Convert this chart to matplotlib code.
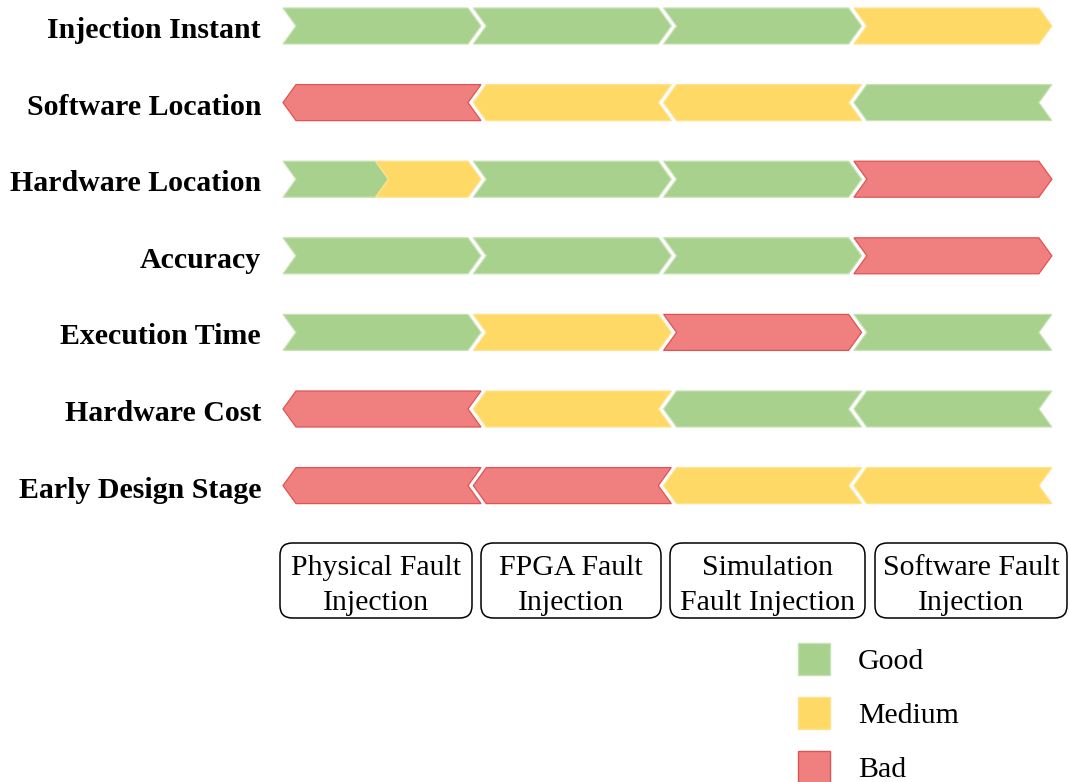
import matplotlib
matplotlib.use('Agg')
from matplotlib import pyplot as plt
from matplotlib.patches import Polygon, Rectangle, FancyBboxPatch

# criteria (rows, top to bottom) and techniques (columns)
criteria = ['Injection Instant', 'Software Location', 'Hardware Location', 'Accuracy',
            'Execution Time', 'Hardware Cost', 'Early Design Stage']
techniques = ['Physical Fault\nInjection', 'FPGA Fault\nInjection',
              'Simulation\nFault Injection', 'Software Fault\nInjection']

# rating of each technique per criterion (a pair = cell split in two)
injection_instant = ['good', 'good', 'good', 'medium']
software_location = ['bad', 'medium', 'medium', 'good']
hardware_location = [('good', 'medium'), 'good', 'good', 'bad']
accuracy = ['good', 'good', 'good', 'bad']
execution_time = ['good', 'medium', 'bad', 'good']
hardware_cost = ['bad', 'medium', 'good', 'good']
early_design_stage = ['bad', 'bad', 'medium', 'medium']
ratings = [injection_instant, software_location, hardware_location, accuracy,
           execution_time, hardware_cost, early_design_stage]

# arrow direction of each cell
directions = ['>>>>', '<<<<', '>>>>', '>>>>', '>>><', '<<<<', '<<<<']

legend_labels = ['Good', 'Medium', 'Bad']
fills = {'good': '#A9D18E', 'medium': '#FFD966', 'bad': '#F08080'}
edges = {'good': '#C6E2B3', 'medium': '#FFE38C', 'bad': '#E25252'}

# layout: x unit = one column (190.3 px), y unit = one row (76.6 px)
px_x, px_y = 190.3, 76.6
x0_px, y0_px = 283.0, 26.0
gap = 0.028
tip = 13 / px_x
half_h = 18 / px_y
serif = 'Liberation Serif'
fs = 21.5

fig = plt.figure(figsize=(10.7, 7.82), dpi=100)
ax = fig.add_axes([0, 0, 1, 1])
ax.set_xlim(-x0_px / px_x, (1070 - x0_px) / px_x)
ax.set_ylim((782 - y0_px) / px_y, -y0_px / px_y)
ax.axis('off')


def chevron(a, b, yc, left, right, rating):
    top, bot = yc - half_h, yc + half_h
    if left == 'notch':
        tl, lm, bl = (a, top), (a + tip, yc), (a, bot)
    else:
        tl, lm, bl = (a + tip, top), (a, yc), (a + tip, bot)
    if right == 'tip':
        tr, rm, br = (b, top), (b + tip, yc), (b, bot)
    else:
        tr, rm, br = (b + tip, top), (b, yc), (b + tip, bot)
    ax.add_patch(Polygon([tl, tr, rm, br, bl, lm], closed=True,
                         facecolor=fills[rating], edgecolor=edges[rating], lw=0.9))


for r, (row, dirs) in enumerate(zip(ratings, directions)):
    for i, cell in enumerate(row):
        d = dirs[i]
        prev = dirs[i - 1] if i > 0 else d
        left = 'notch' if prev == '>' else 'tip'
        right = 'tip' if d == '>' else 'notch'
        if isinstance(cell, tuple):
            mid = i + (1 - gap) / 2
            chevron(i, mid, r, left, right, cell[0])
            chevron(mid, i + 1 - gap, r, 'notch', right, cell[1])
        else:
            chevron(i, i + 1 - gap, r, left, right, cell)
    ax.text(-22 / px_x, r + 1.5 / px_y, criteria[r], ha='right', va='center_baseline',
            family=serif, fontweight='bold', fontsize=fs)

# technique boxes
box_edges_px = [(280, 472), (481, 661), (670, 865), (875, 1067)]
box_top = (543 - y0_px) / px_y
box_bot = (618 - y0_px) / px_y
aspect = px_x / px_y
for name, (l_px, r_px) in zip(techniques, box_edges_px):
    l = (l_px - x0_px) / px_x
    w = (r_px - l_px) / px_x
    ax.add_patch(FancyBboxPatch((l, box_top), w, box_bot - box_top,
                                boxstyle='round,pad=0,rounding_size=0.065',
                                mutation_aspect=aspect,
                                facecolor='white', edgecolor='black', lw=1.1))
    ax.text(l + w / 2, (box_top + box_bot) / 2 + 5 / px_y, name, ha='center', va='center',
            family=serif, fontsize=fs, linespacing=1.42)

# legend
leg_x = (798 - x0_px) / px_x
leg_w = 32 / px_x
leg_h = 32 / px_y
for k, (label, key) in enumerate(zip(legend_labels, ['good', 'medium', 'bad'])):
    yc = (659 + 54 * k - y0_px) / px_y
    ax.add_patch(Rectangle((leg_x, yc - leg_h / 2), leg_w, leg_h,
                           facecolor=fills[key], edgecolor=edges[key], lw=1.0))
    ax.text((858 - x0_px) / px_x, yc, label, ha='left', va='center_baseline',
            family=serif, fontsize=fs)

fig.savefig('out.png', dpi=100)
